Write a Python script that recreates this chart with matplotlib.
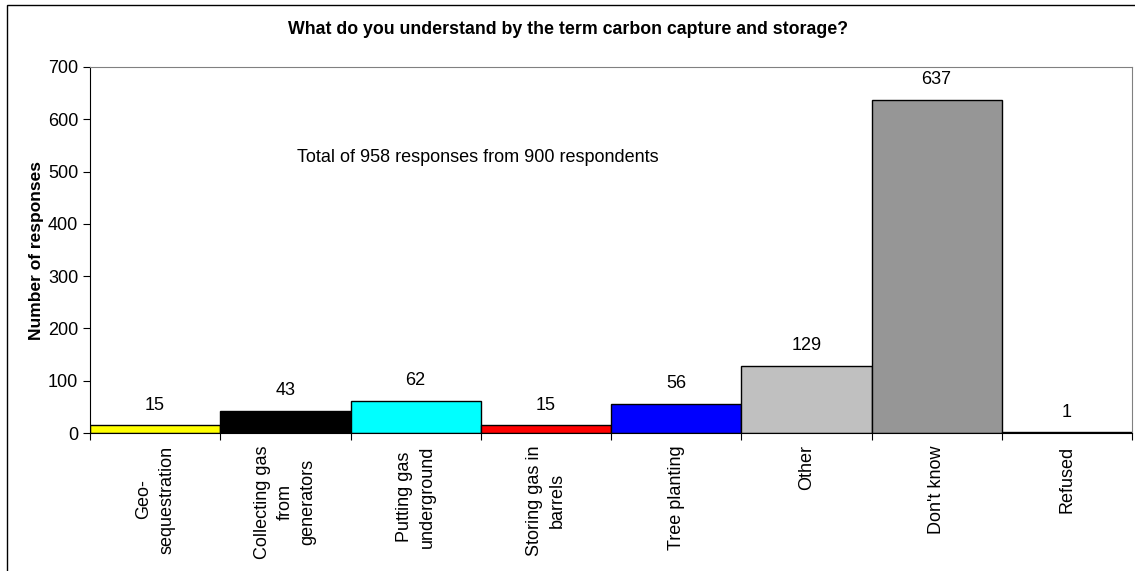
import numpy as np
import matplotlib.pyplot as plt
from matplotlib.patches import Rectangle

categories = ['Geo-\nsequestration', 'Collecting gas\nfrom\ngenerators', 'Putting gas\nunderground',
              'Storing gas in\nbarrels', 'Tree planting', 'Other', "Don't know", 'Refused']
responses = [15, 43, 62, 15, 56, 129, 637, 1]
bar_colors = ['#FFFF00', '#000000', '#00FFFF', '#FF0000', '#0000FF', '#C0C0C0', '#969696', '#FFFFFF']

plt.rcParams['font.family'] = ['Liberation Sans', 'DejaVu Sans']

fig = plt.figure(figsize=(11.35, 5.71), dpi=100)
# outer chart border
fig.patches.append(Rectangle((7 / 1135, -0.1), 1.2, 1 - 5 / 571 + 0.1, transform=fig.transFigure,
                             fill=False, edgecolor='black', linewidth=1))

W, H = 1135, 571
left, right, top, bottom = 90, 1132, 67, 433
ax = fig.add_axes([left / W, 1 - bottom / H, (right - left) / W, (bottom - top) / H])

x = np.arange(len(responses))
ax.bar(x, responses, width=1.0, color=bar_colors, edgecolor='black', linewidth=1, align='edge')
for xi, v in zip(x, responses):
    ax.text(xi + 0.5, v + 22, str(v), ha='center', va='bottom', fontsize=13)

ax.set_xlim(0, len(responses))
ax.set_ylim(0, 700)
ax.set_yticks(range(0, 701, 100))
ax.set_xticks(np.arange(len(responses) + 1))
ax.set_xticklabels([])
ax.tick_params(axis='y', labelsize=13, direction='out', length=5)
ax.tick_params(axis='x', direction='out', length=5)
for xi, lab in zip(x, categories):
    ax.text(xi + 0.5, -0.034, lab, rotation=90, ha='center', va='top', multialignment='center',
            fontsize=13, linespacing=1.45, transform=ax.get_xaxis_transform())

ax.spines['top'].set_color('#808080')
ax.spines['right'].set_color('#808080')
ax.set_ylabel('Number of responses', fontsize=12.5, fontweight='bold', labelpad=3)

ax.text(1.59, 526, 'Total of 958 responses from 900 respondents', fontsize=13, va='center')
fig.text(568 / W, 1 - 30 / H, 'What do you understand by the term carbon capture and storage?',
         ha='center', va='center', fontsize=12.8, fontweight='bold')

plt.savefig('out.png', dpi=100)
